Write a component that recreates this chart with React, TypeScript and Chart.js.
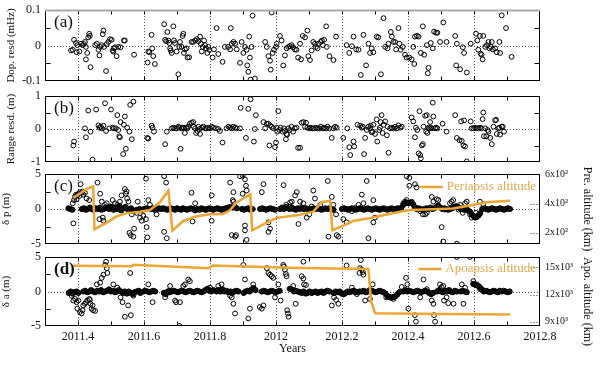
import React, { useEffect, useRef } from "react";
import { Chart, registerables } from "chart.js";

Chart.register(...registerables);

type Pt = [number, number];

const FONT = "'Liberation Serif', 'DejaVu Serif', serif";
const ORANGE = "#EEA534";
const ORANGE_TEXT = "#E4A64C";

// ---------- axes / ticks ----------
const X_MIN = 2011.3;
const X_MAX = 2012.8;
const xLabelValues = [2011.4, 2011.6, 2011.8, 2012, 2012.2, 2012.4, 2012.6, 2012.8];
const xTickLabels = ["2011.4", "2011.6", "2011.8", "2012", "2012.2", "2012.4", "2012.6", "2012.8"];
const xGridValues = [2011.4, 2011.6, 2011.8, 2012, 2012.2, 2012.4, 2012.6];
const xMinorTicks = [2011.4, 2011.5, 2011.6, 2011.7, 2011.8, 2011.9, 2012.0, 2012.1, 2012.2, 2012.3, 2012.4, 2012.5, 2012.6, 2012.7];

const dopTicks = [-0.1, 0, 0.1];
const dopTickLabels = ["-0.1", "0", "0.1"];
const dopMinor = [-0.05, 0.05];
const rangeTicks = [-1, 0, 1];
const rangeTickLabels = ["-1", "0", "1"];
const rangeMinor = [-0.5, 0.5];
const deltaTicks = [-5, 0, 5];
const deltaTickLabels = ["-5", "0", "5"];
const deltaMinor = [-2.5, 2.5];
const periTicks = [2, 4, 6];
const periTickLabels = ["2x10²", "4x10²", "6x10²"];
const apoTicks = [9, 12, 15];
const apoTickLabels = ["9x10³", "12x10³", "15x10³"];

// ---------- (a) Doppler residuals (mHz) ----------
const dopplerResid: Pt[] = [
  [2011.379,-0.014],[2011.384,-0.012],[2011.388,0.016],[2011.394,0.007],[2011.398,0.001],[2011.396,-0.019],[2011.404,-0.017],[2011.409,0.005],[2011.414,0.001],[2011.418,0.004],[2011.421,0.010],[2011.424,-0.004],[2011.424,-0.039],[2011.428,-0.021],[2011.431,0.023],[2011.434,0.033],[2011.436,0.027],[2011.438,-0.061],[2011.452,0.001],[2011.457,0.005],[2011.462,-0.012],[2011.465,-0.028],[2011.467,-0.004],[2011.472,0.001],[2011.475,0.032],[2011.477,0.042],[2011.479,-0.004],[2011.485,-0.072],[2011.487,0.004],[2011.492,0.010],[2011.497,0.018],[2011.502,0.016],[2011.505,-0.014],[2011.507,-0.017],[2011.509,-0.008],[2011.512,-0.005],[2011.517,-0.030],[2011.522,-0.004],[2011.529,-0.005],[2011.539,0.014],[2011.542,0.014],[2011.570,-0.026],
  [2011.611,-0.048],[2011.613,-0.017],[2011.616,-0.019],[2011.623,0.030],[2011.625,-0.008],[2011.628,-0.030],[2011.633,-0.052],[2011.661,0.060],[2011.664,0.016],[2011.667,0.012],[2011.671,0.038],[2011.674,0.014],[2011.677,0.007],[2011.679,-0.008],[2011.681,-0.014],[2011.684,-0.021],[2011.689,0.054],[2011.691,0.014],[2011.694,0.007],[2011.699,-0.017],[2011.704,-0.081],[2011.707,-0.004],[2011.709,0.010],[2011.714,-0.004],[2011.717,0.027],[2011.719,0.033],[2011.721,-0.021],[2011.724,-0.011],[2011.729,-0.008],[2011.732,-0.034],[2011.737,-0.033],[2011.744,0.010],[2011.749,0.010],[2011.755,0.014],[2011.760,0.018],[2011.765,0.012],[2011.770,0.025],[2011.772,0.005],[2011.775,-0.017],[2011.778,-0.004],[2011.782,0.014],[2011.785,0.001],[2011.788,-0.008],[2011.792,-0.021],[2011.795,-0.004],[2011.798,-0.012],
  [2011.808,-0.034],[2011.812,-0.011],[2011.820,0.049],[2011.825,-0.024],[2011.838,-0.046],[2011.845,-0.004],[2011.855,-0.004],[2011.861,-0.011],[2011.863,0.049],[2011.866,0.005],[2011.871,0.010],[2011.876,0.005],[2011.881,-0.011],[2011.891,-0.049],[2011.896,0.010],[2011.901,-0.021],[2011.906,-0.004],[2011.911,-0.012],[2011.913,-0.056],[2011.916,-0.074],[2011.919,0.025],[2011.921,-0.034],[2011.923,-0.096],[2011.926,-0.004],[2011.929,0.084],[2011.936,-0.093],[2011.967,0.010],[2011.972,-0.004],[2011.977,-0.030],[2011.982,-0.043],[2011.984,-0.068],[2011.987,0.093],[2011.990,-0.021],[2011.994,-0.012],[2012.000,-0.004],[2012.002,0.005],[2012.012,0.027],[2012.017,0.014],[2012.022,-0.056],[2012.027,-0.028],[2012.032,-0.008],[2012.037,-0.004],[2012.042,-0.002],[2012.047,0.001],[2012.052,-0.005],[2012.057,-0.011],[2012.062,-0.012],[2012.067,-0.034],
  [2012.073,0.005],[2012.076,-0.039],[2012.081,0.027],[2012.088,0.023],[2012.095,0.042],[2012.098,-0.030],[2012.103,-0.041],[2012.108,-0.014],[2012.113,0.010],[2012.118,0.005],[2012.121,-0.004],[2012.126,-0.008],[2012.129,0.005],[2012.136,0.010],[2012.139,0.014],[2012.142,0.001],[2012.146,0.016],[2012.152,0.054],[2012.154,-0.004],[2012.162,-0.030],[2012.174,-0.041],[2012.182,0.025],[2012.214,0.001],[2012.222,-0.021],[2012.230,-0.002],[2012.235,0.025],[2012.243,-0.011],[2012.250,-0.012],[2012.257,-0.083],[2012.265,0.030],[2012.273,-0.056],[2012.280,0.005],[2012.285,-0.021],[2012.290,-0.008],[2012.295,-0.019],[2012.305,0.025],[2012.310,0.023],[2012.318,-0.081],[2012.326,0.077],[2012.331,-0.004],[2012.338,-0.008],[2012.341,0.005],[2012.348,0.038],[2012.351,0.025],[2012.356,0.010],[2012.361,0.010],[2012.364,-0.011],[2012.371,0.049],[2012.374,0.005],[2012.378,-0.012],[2012.384,-0.004],[2012.391,-0.026],[2012.396,-0.034],[2012.404,-0.034],[2012.411,-0.039],[2012.416,-0.004],[2012.419,-0.052],[2012.421,0.025],[2012.427,0.027],[2012.432,0.025],[2012.439,-0.021],[2012.445,0.054],[2012.449,-0.026],[2012.457,0.001],[2012.460,-0.078],[2012.462,-0.063],[2012.469,0.007],[2012.475,-0.008],[2012.479,0.039],[2012.485,0.036],[2012.489,0.036],[2012.497,0.010],[2012.507,0.065],[2012.517,0.010],[2012.543,0.027],[2012.548,0.005],[2012.546,-0.056],[2012.558,-0.067],[2012.566,-0.005],[2012.570,-0.021],[2012.578,-0.076],[2012.590,0.005],[2012.606,0.033],[2012.610,0.014],[2012.613,-0.012],[2012.618,0.027],[2012.620,-0.023],[2012.623,-0.026],[2012.626,-0.039],[2012.628,0.027],[2012.634,-0.004],[2012.639,0.001],[2012.644,0.010],[2012.647,-0.008],[2012.651,-0.004],[2012.654,0.010],[2012.657,-0.011],[2012.664,-0.008],[2012.669,-0.019],[2012.677,0.010],[2012.679,-0.021],[2012.684,0.085],[2012.697,0.049],[2012.714,-0.032],
];

// ---------- (b) Range residuals (m) ----------
const rangeResid: Pt[] = [
  [2011.386,-0.50],[2011.388,-0.38],[2011.421,0.02],[2011.424,-0.25],[2011.431,0.56],[2011.438,-0.08],[2011.444,-0.93],[2011.455,0.59],[2011.462,0.11],[2011.465,0.04],[2011.469,0.07],[2011.472,0.02],[2011.477,0.10],[2011.482,0.78],[2011.485,-0.06],[2011.495,0.02],[2011.500,0.59],[2011.505,0.04],[2011.509,0.02],[2011.515,0.02],[2011.519,0.42],[2011.522,-0.03],[2011.525,-0.22],[2011.527,-0.25],[2011.529,0.21],[2011.537,-0.76],[2011.539,0.13],[2011.542,0.38],[2011.545,-0.60],[2011.549,0.04],[2011.556,-0.08],[2011.558,0.73],[2011.563,-0.31],[2011.568,0.83],
  [2011.610,-0.27],[2011.613,-0.29],[2011.623,0.10],[2011.626,0.04],[2011.630,-0.08],[2011.664,-0.46],[2011.669,-0.08],[2011.684,0.02],[2011.689,0.04],[2011.694,0.02],[2011.699,0.02],[2011.704,0.07],[2011.707,0.04],[2011.711,-0.60],[2011.714,0.02],[2011.717,0.04],[2011.721,0.04],[2011.724,-0.12],[2011.727,0.04],[2011.731,0.02],[2011.734,0.07],[2011.739,0.16],[2011.744,0.19],[2011.749,0.21],[2011.751,0.07],[2011.755,0.02],[2011.758,-0.12],[2011.762,-0.06],[2011.765,0.07],[2011.768,0.00],[2011.770,-0.15],[2011.775,0.04],[2011.780,0.07],[2011.785,0.02],[2011.790,0.02],[2011.795,0.04],[2011.800,0.02],[2011.805,0.07],[2011.810,0.04],[2011.818,0.02],[2011.825,0.00],[2011.830,-0.06],[2011.838,-0.41],[2011.850,0.02],[2011.856,0.07],[2011.861,0.04],[2011.866,0.02],[2011.871,0.07],[2011.876,0.04],[2011.881,0.02],[2011.891,0.02],[2011.893,0.64],[2011.909,-0.27],[2011.916,0.61],[2011.923,0.90],[2011.933,-0.38],[2011.936,0.00],[2011.939,0.42],[2011.962,0.21],[2011.967,0.02],[2011.972,0.16],[2011.977,0.16],[2011.980,-0.50],[2011.982,0.11],[2011.987,0.07],[2011.992,0.02],[2011.997,-0.55],[2012.000,-0.41],[2012.002,0.04],[2012.004,-0.08],[2012.007,0.54],[2012.010,-0.03],[2012.014,0.04],[2012.020,-0.08],[2012.024,0.02],[2012.027,-0.06],[2012.030,-0.31],[2012.032,-0.15],[2012.034,-0.17],[2012.037,0.02],[2012.042,-0.03],[2012.047,0.07],[2012.052,-0.08],[2012.057,0.02],[2012.062,0.04],[2012.067,-0.57],
  [2012.073,-0.57],[2012.078,0.19],[2012.083,0.21],[2012.088,0.07],[2012.091,0.19],[2012.095,0.04],[2012.101,0.02],[2012.105,0.04],[2012.111,0.02],[2012.115,0.02],[2012.121,0.04],[2012.126,0.02],[2012.132,0.02],[2012.136,0.07],[2012.142,0.02],[2012.146,0.04],[2012.152,0.02],[2012.156,0.07],[2012.162,0.02],[2012.169,-0.27],[2012.174,0.02],[2012.179,0.07],[2012.184,0.04],[2012.204,-0.27],[2012.216,0.02],[2012.222,-0.55],[2012.225,-0.79],[2012.235,-0.38],[2012.237,-0.53],[2012.247,0.13],[2012.255,0.10],[2012.260,0.04],[2012.263,0.07],[2012.267,-0.76],[2012.270,-0.27],[2012.275,-0.03],[2012.280,0.07],[2012.285,0.02],[2012.287,0.10],[2012.290,-0.10],[2012.293,-0.08],[2012.295,0.13],[2012.300,-0.15],[2012.305,0.29],[2012.307,-0.38],[2012.313,-0.03],[2012.315,0.04],[2012.317,0.21],[2012.320,0.42],[2012.323,-0.12],[2012.326,0.13],[2012.331,0.23],[2012.336,-0.19],[2012.338,0.07],[2012.341,-0.72],[2012.346,0.02],[2012.351,0.04],[2012.356,0.02],[2012.361,0.07],[2012.366,0.02],[2012.371,0.11],[2012.376,0.04],[2012.381,0.07],
  [2012.411,0.35],[2012.416,0.23],[2012.421,-0.25],[2012.424,0.04],[2012.428,-0.03],[2012.432,-0.74],[2012.435,0.54],[2012.437,-0.79],[2012.439,-0.89],[2012.442,-0.50],[2012.445,-0.46],[2012.447,0.07],[2012.452,0.40],[2012.455,-0.08],[2012.457,0.42],[2012.459,-0.12],[2012.462,0.04],[2012.465,0.02],[2012.467,0.21],[2012.469,0.04],[2012.472,0.02],[2012.475,0.80],[2012.477,0.38],[2012.482,0.02],[2012.485,0.04],[2012.489,0.02],[2012.505,0.16],[2012.517,-0.08],[2012.543,0.42],[2012.548,-0.27],[2012.556,-0.34],[2012.561,0.23],[2012.563,-0.36],[2012.568,-0.50],[2012.570,0.26],[2012.573,-0.53],[2012.578,-0.98],[2012.590,0.23],[2012.593,0.02],[2012.598,0.02],[2012.603,0.04],[2012.608,0.02],[2012.613,0.02],[2012.618,0.04],[2012.623,0.02],[2012.626,0.30],[2012.628,0.50],[2012.630,-0.22],[2012.634,0.02],[2012.637,-0.22],[2012.641,-0.03],[2012.644,-0.08],[2012.649,-0.27],[2012.654,-0.46],[2012.659,0.07],[2012.664,0.26],[2012.667,0.28],[2012.669,-0.15],[2012.674,0.02],[2012.677,0.04],[2012.679,-0.17],[2012.684,0.07],[2012.687,0.07],[2012.691,-0.08],
];

// ---------- (c) delta p (m), dense near-zero band + scattered ----------
const deltaPBand: Pt[] = [
  [2011.371,0.1],[2011.377,0],[2011.383,-0.1],
  [2011.412,0],[2011.418,0.1],[2011.424,-0.1],[2011.429,0],[2011.436,0.2],[2011.442,0],[2011.447,-0.1],[2011.453,0.1],[2011.46,0],[2011.466,0.2],[2011.471,-0.1],[2011.478,0],[2011.484,0.2],[2011.49,0.1],[2011.495,0],[2011.502,0.3],[2011.508,-0.1],[2011.513,0.2],[2011.52,0],[2011.526,0.4],[2011.531,-0.2],[2011.538,0.1],[2011.544,0.3],[2011.55,0],[2011.556,-0.2],[2011.561,0.1],[2011.567,-0.3],[2011.574,-0.2],[2011.58,-0.1],[2011.587,0],[2011.593,-0.2],[2011.6,0],[2011.607,0.1],[2011.62,0],[2011.626,0.1],[2011.632,-0.1],[2011.64,0],[2011.646,0.1],[2011.652,0],[2011.658,0.1],[2011.664,0],[2011.67,-0.1],
  [2011.676,0],[2011.682,0.1],[2011.688,0],[2011.694,-0.1],[2011.7,0.1],[2011.706,0],[2011.712,-0.1],[2011.718,0.1],[2011.724,0],[2011.73,-0.1],[2011.736,0],[2011.742,0.1],[2011.749,0],[2011.755,-0.2],[2011.761,0],[2011.768,-0.1],[2011.774,0.1],[2011.78,0],[2011.786,-0.1],[2011.792,0],[2011.798,0.1],[2011.804,0],[2011.81,-0.1],[2011.816,0],[2011.822,0.1],[2011.829,0],[2011.835,-0.1],[2011.841,0],[2011.848,0.1],[2011.855,0.2],[2011.862,0.3],[2011.868,0.2],[2011.875,0.3],[2011.881,0.1],
  [2011.897,0],[2011.903,-0.1],[2011.909,0],[2011.916,0.1],[2011.922,-0.1],[2011.929,0],
  [2011.952,0],[2011.958,0.1],[2011.964,0],[2011.97,-0.1],[2011.976,0],[2011.983,0.1],[2011.99,0],[2011.997,-0.1],
  [2012.012,0],[2012.018,0.2],[2012.024,0],[2012.03,0.3],[2012.036,0.1],[2012.042,0],[2012.048,0.2],[2012.054,0],[2012.06,-0.1],[2012.066,0.1],[2012.072,0],[2012.078,0.2],[2012.084,0],[2012.09,0.1],[2012.096,0],[2012.102,-0.1],[2012.108,0],[2012.114,0.1],[2012.12,0],[2012.126,0.1],[2012.132,0],[2012.138,-0.1],[2012.144,0],[2012.15,0.1],[2012.156,0],[2012.162,0.1],[2012.168,0],[2012.174,-0.1],
  [2012.2,0],[2012.206,0.1],[2012.212,0],[2012.218,-0.1],[2012.224,0],[2012.23,0.1],[2012.236,0],[2012.242,-0.1],[2012.248,0],[2012.254,0.1],[2012.26,0],[2012.266,-0.1],[2012.272,0],[2012.278,0.1],[2012.284,0],[2012.29,-0.1],[2012.296,0],[2012.302,0.1],[2012.308,0],[2012.314,-0.1],[2012.32,0],[2012.326,0.1],[2012.332,0],[2012.338,-0.1],[2012.344,0],[2012.35,0.1],[2012.356,0],[2012.362,0],[2012.368,0.1],[2012.374,0],[2012.38,0.2],
  [2012.386,0.6],[2012.391,0.8],[2012.397,0.9],[2012.403,0.8],[2012.409,0.9],[2012.415,0.7],[2012.42,0.3],
  [2012.426,0],[2012.432,0.1],[2012.438,0],[2012.444,-0.1],[2012.45,0],[2012.456,0.1],[2012.462,0],[2012.468,0.2],[2012.474,0],[2012.48,0.1],[2012.486,0.3],[2012.492,0.5],[2012.498,0.2],[2012.504,0],[2012.51,0.1],[2012.516,0],[2012.522,-0.1],[2012.528,0],[2012.534,0.1],[2012.54,0.3],[2012.546,0.4],[2012.552,0.3],[2012.558,0.1],[2012.564,0],[2012.57,-0.1],[2012.576,0],[2012.582,-0.2],[2012.588,-0.4],
  [2012.594,-0.8],[2012.599,-1],[2012.604,-1.2],[2012.609,-1.1],[2012.614,-0.9],[2012.619,-0.6],
  [2012.625,0],[2012.631,0.1],[2012.637,0],[2012.643,-0.1],[2012.649,0],[2012.655,0.1],[2012.661,0],[2012.667,-0.1],[2012.673,0],[2012.679,0.1],[2012.685,0],[2012.691,-0.1],[2012.697,0],[2012.703,0.1],[2012.709,0],
];

const deltaPScatter: Pt[] = [
  [2011.386,-2.05],[2011.384,0.82],[2011.388,1.27],[2011.391,1.73],[2011.394,2.05],[2011.396,1.41],[2011.398,1.95],[2011.401,2.18],[2011.404,1.86],[2011.406,2.41],[2011.408,3.55],[2011.411,2.32],[2011.414,2.5],[2011.416,2.05],[2011.421,2.32],[2011.426,1.5],[2011.434,1.27],[2011.459,3.77],[2011.465,-1.45],[2011.467,2.18],[2011.472,1.05],[2011.475,-1.23],[2011.477,-1.68],[2011.482,0.59],[2011.487,0.82],[2011.497,0.36],[2011.505,1.27],[2011.512,0.82],[2011.519,0.59],[2011.527,1.05],[2011.532,1.95],[2011.542,2.86],[2011.545,2.18],[2011.547,2.5],[2011.549,1.5],[2011.553,1.05],[2011.556,-3.41],[2011.563,-0.77],[2011.560,-3.73],[2011.568,-3.95],[2011.570,-2.82],[2011.578,-0.55],[2011.581,1.05],[2011.588,-1.23],[2011.593,-1.68],[2011.598,-1.0],[2011.606,4.32],[2011.606,-1.45],[2011.608,-2.59],[2011.610,-4.05],[2011.613,1.27],[2011.618,0.59],[2011.638,-0.77],[2011.661,4.68],[2011.667,3.77],[2011.661,-3.27],[2011.669,-4.18],[2011.744,2.32],[2011.747,-1.77],[2011.755,0.82],[2011.790,-0.09],
  [2011.805,1.95],[2011.805,-1.68],[2011.861,3.77],[2011.871,2.41],[2011.869,1.27],[2011.871,1.05],[2011.866,-3.73],[2011.876,-3.95],[2011.879,-3.73],[2011.891,4.68],[2011.899,4.77],[2011.906,4.23],[2011.909,3.32],[2011.899,2.18],[2011.911,2.64],[2011.906,-2.36],[2011.906,-3.05],[2011.911,-4.41],[2011.957,2.41],[2011.962,3.55],[2011.977,-1.91],[2011.977,-3.27],[2011.982,-2.82],[2012.023,3.41],[2012.031,0.59],[2012.043,0.95],[2012.048,1.05],[2012.058,1.95],[2012.063,2.41],[2012.068,-2.14],[2012.073,1.05],[2012.083,0.82],[2012.093,-1.23],[2012.101,-0.77],[2012.108,0.36],[2012.113,2.64],[2012.118,1.5],[2012.134,0.59],[2012.157,4.0],[2012.159,-3.95],[2012.169,1.73],[2012.174,0.59],[2012.182,-0.77],[2012.184,-3.73],[2012.189,-3.95],[2012.204,-1.45],[2012.214,-1.91],[2012.230,-0.32],[2012.240,0.14],[2012.250,0.59],[2012.260,2.05],[2012.265,0.82],[2012.275,4.0],[2012.280,-4.18],
  [2012.295,1.27],[2012.295,-1.91],[2012.30,-1.23],[2012.386,0.82],[2012.391,1.05],[2012.396,4.68],[2012.404,4.45],[2012.404,3.32],[2012.396,1.27],[2012.411,1.05],[2012.421,3.55],[2012.426,3.09],[2012.437,-0.32],[2012.445,-0.77],[2012.452,-0.77],[2012.457,-0.55],[2012.472,1.73],[2012.477,1.05],[2012.487,1.41],[2012.492,1.27],[2012.502,-2.59],[2012.507,-4.64],[2012.512,-0.09],[2012.527,0.82],[2012.532,1.05],[2012.537,1.27],[2012.548,-4.95],[2012.553,-0.09],[2012.558,0.59],[2012.566,-0.55],[2012.573,0.82],[2012.578,1.05],[2012.588,-0.77],[2012.593,-1.23],[2012.598,-1.0],[2012.603,-1.23],[2012.606,-0.55],[2012.610,-1.0],[2012.618,1.05],[2012.628,0.68],
];

// periapsis altitude (x100 km)
const periapsisAlt: Pt[] = [
  [2011.386,4.4],[2011.428,5.05],[2011.446,5.2],[2011.45,2.25],[2011.487,2.71],[2011.517,3.14],[2011.548,3.36],[2011.588,3.46],[2011.618,3.57],[2011.648,4.11],[2011.674,4.9],[2011.686,2.15],[2011.719,2.82],[2011.76,3.14],[2011.8,3.29],[2011.84,3.3],[2011.861,3.57],[2011.881,4.11],[2011.922,4.65],[2011.928,2.18],[2011.972,2.71],[2012.002,3.03],[2012.073,3.25],[2012.113,3.46],[2012.138,4.11],[2012.164,4.22],[2012.171,2.18],[2012.204,2.5],[2012.234,2.82],[2012.285,3.03],[2012.376,3.46],[2012.406,3.57],[2012.537,3.68],[2012.588,3.89],[2012.638,4.11],[2012.709,4.21],
];

// ---------- (d) delta a (m) ----------
const deltaABand: Pt[] = [
  [2011.372,-0.2],[2011.378,0],[2011.384,-0.3],[2011.39,-0.1],[2011.396,0],[2011.401,-0.2],
  [2011.416,0],[2011.422,0.1],[2011.428,-0.1],[2011.434,0],[2011.44,0.2],[2011.446,0],[2011.452,-0.1],[2011.458,0.1],[2011.464,0],[2011.47,0.2],[2011.476,-0.1],[2011.482,0],[2011.488,0.1],[2011.494,0.3],[2011.5,0],[2011.506,0.1],[2011.512,-0.1],[2011.518,0],[2011.524,0.2],[2011.53,0],[2011.536,-0.2],[2011.542,0],[2011.548,-0.3],[2011.554,0],[2011.56,-0.2],[2011.566,-0.4],[2011.572,-0.1],[2011.578,0],[2011.584,0.1],[2011.589,-0.2],
  [2011.598,0],[2011.604,0.1],[2011.61,0],[2011.616,-0.1],[2011.622,0],[2011.628,0.1],[2011.634,0],
  [2011.66,-0.2],[2011.666,-0.4],[2011.672,0],[2011.678,-0.1],[2011.684,0],[2011.69,0.1],[2011.696,0],[2011.702,-0.1],[2011.708,0],[2011.714,0.1],[2011.72,0],[2011.726,-0.1],[2011.732,0],[2011.738,0.1],[2011.744,0],[2011.75,-0.1],[2011.756,0],[2011.762,0.1],[2011.768,0],[2011.774,-0.1],[2011.78,0],[2011.786,0.2],[2011.792,0.4],[2011.798,0.1],[2011.804,0],[2011.81,0.2],
  [2011.82,0],[2011.826,0.2],[2011.832,0],[2011.838,0.3],[2011.844,0],[2011.85,0.1],[2011.856,-0.1],[2011.862,0],[2011.868,-0.2],[2011.874,0],[2011.88,0.1],[2011.886,0],
  [2011.902,-0.2],[2011.908,0],[2011.914,0.1],[2011.92,0],[2011.926,0.3],[2011.932,0.5],[2011.938,0.2],
  [2011.957,0],[2011.963,0.1],[2011.969,0],[2011.975,-0.1],[2011.981,0],[2011.987,0.1],[2011.993,0],[2011.999,-0.1],[2012.005,0],[2012.011,0.1],
  [2012.042,0.4],[2012.048,0.3],[2012.054,0],[2012.06,0.1],[2012.066,0],[2012.072,-0.1],[2012.078,-0.2],[2012.084,0],[2012.09,-0.3],[2012.096,-0.2],[2012.102,0],[2012.108,-0.2],[2012.114,-0.1],[2012.12,0],[2012.126,-0.2],[2012.132,-0.1],[2012.138,0],[2012.144,-0.2],[2012.15,0],[2012.156,0.1],[2012.162,0],
  [2012.175,-0.2],[2012.181,0],[2012.187,-0.1],[2012.193,0],[2012.199,-0.3],[2012.205,-0.4],[2012.211,-0.2],[2012.217,0],[2012.223,-0.1],[2012.229,0],[2012.235,0.1],[2012.241,0],[2012.247,-0.1],[2012.253,0],
  [2012.26,0],[2012.266,0.1],[2012.272,-0.1],[2012.278,0],[2012.284,0.2],[2012.29,0.1],[2012.296,0],[2012.302,-0.1],[2012.308,0],[2012.314,0.1],[2012.32,0],[2012.326,-0.1],[2012.332,-0.3],[2012.338,-0.7],[2012.344,-0.8],[2012.35,-0.9],[2012.356,-0.8],[2012.362,-0.7],[2012.368,-0.4],[2012.374,-0.1],
  [2012.386,0],[2012.392,0.2],[2012.398,0],[2012.404,0.1],[2012.41,0],[2012.416,-0.1],[2012.422,0],[2012.428,0.1],[2012.434,0],[2012.44,-0.1],[2012.446,0],[2012.452,0.1],[2012.458,0],[2012.464,-0.2],[2012.47,-0.4],[2012.476,-0.2],
  [2012.488,0],[2012.494,0.2],[2012.5,0],[2012.506,-0.1],[2012.512,0.1],[2012.518,0],[2012.524,0.2],[2012.53,0],[2012.536,-0.1],[2012.542,0.1],[2012.548,0],[2012.56,0],[2012.566,0.1],[2012.572,0],[2012.578,-0.1],
  [2012.598,1.1],[2012.603,1.0],[2012.608,0.9],[2012.613,0.8],[2012.618,0.6],[2012.624,0.3],[2012.63,0],[2012.636,0.1],[2012.642,0],[2012.648,-0.1],[2012.654,0],[2012.66,0.1],[2012.666,0],[2012.672,-0.1],[2012.678,0.1],[2012.684,0],[2012.69,0.1],[2012.696,0],[2012.702,-0.1],[2012.708,0],
];

const deltaAScatter: Pt[] = [
  [2011.381,-0.61],[2011.386,-1.31],[2011.391,-1.08],[2011.396,-1.55],[2011.401,-1.31],[2011.398,-2.49],[2011.406,-2.96],[2011.411,-3.19],[2011.414,-2.72],[2011.416,-2.02],[2011.421,-1.78],[2011.424,-1.55],[2011.428,-1.31],[2011.434,-1.08],[2011.436,-1.22],[2011.438,-1.78],[2011.441,-2.49],[2011.444,-2.02],[2011.446,-2.72],[2011.452,-2.82],[2011.457,1.03],[2011.467,1.27],[2011.472,1.97],[2011.477,2.44],[2011.482,3.85],[2011.485,4.32],[2011.487,3.38],[2011.489,2.68],[2011.507,1.03],[2011.519,0.56],[2011.529,-0.85],[2011.535,-1.55],[2011.542,-3.66],[2011.552,-2.02],[2011.558,2.68],[2011.560,-3.43],[2011.568,-0.61],[2011.613,1.03],[2011.626,-1.55],[2011.664,-0.85],[2011.677,0.09],[2011.679,0.8],[2011.694,-1.31],[2011.697,-1.55],[2011.707,-4.98],[2011.709,-1.55],[2011.719,0.8],[2011.724,1.03],[2011.734,1.74],[2011.739,1.5],[2011.8,0.56],[2011.825,0.8],[2011.835,1.03],[2011.861,-0.61],[2011.866,-0.85],[2011.871,-1.78],[2011.876,-3.19],[2011.901,3.85],[2011.906,1.74],[2011.916,-3.9],[2011.921,-2.49],[2011.931,1.03],[2011.951,-2.25],[2011.957,-2.49],[2011.962,-2.02],[2011.972,3.38],[2011.977,2.68],[2011.982,2.44],[2011.987,2.21],[2011.992,1.97],[2011.997,-0.85],[2012.007,1.03],[2012.014,-1.31],[2012.022,3.85],[2012.024,3.62],[2012.027,3.15],[2012.030,2.54],[2012.032,2.21],[2012.034,-2.72],[2012.036,-3.19],[2012.038,-3.66],[2012.052,0.8],[2012.060,-1.78],
  [2012.083,4.32],[2012.078,2.21],[2012.083,1.88],[2012.085,1.03],[2012.091,0.94],[2012.169,-2.02],[2012.176,-0.85],[2012.182,-1.22],[2012.189,-1.78],[2012.214,3.76],[2012.230,0.56],[2012.240,-0.14],[2012.245,-0.38],[2012.253,2.68],[2012.255,3.38],[2012.257,4.55],[2012.260,3.15],[2012.263,2.82],[2012.265,2.44],[2012.270,-1.31],[2012.285,-1.08],[2012.293,1.03],[2012.334,-0.85],[2012.346,-0.85],[2012.356,-1.08],[2012.381,0.66],[2012.394,1.97],[2012.398,1.03],[2012.401,-2.49],[2012.421,-3.43],[2012.424,-4.37],[2012.437,-0.85],[2012.447,1.74],[2012.457,0.33],[2012.472,-1.31],[2012.477,-1.78],[2012.479,-3.43],[2012.482,-4.37],[2012.497,1.03],[2012.502,0.66],[2012.507,0.8],[2012.509,-1.31],[2012.517,-0.85],[2012.522,-1.69],[2012.538,-1.78],[2012.548,5.0],[2012.563,1.03],[2012.568,-1.78],[2012.573,0.56],[2012.588,5.0],[2012.598,1.5],[2012.608,1.03],[2012.618,0.33],
];

// apoapsis altitude (x1000 km)
const apoapsisAlt: Pt[] = [
  [2011.385,15.18],[2011.564,15.12],[2011.567,15.3],[2011.795,14.9],[2011.808,15.22],[2012.073,14.95],[2012.28,14.82],[2012.288,11.3],[2012.3,9.95],[2012.5,9.86],[2012.709,9.8],
];

// ---------- panel specs ----------
interface RightAxis { min: number; max: number; ticks: number[]; labels: string[]; title: string; titleAlign: string; }
interface PanelSpec {
  key: string; top: number; height: number; padTop: number; padBottom: number;
  label: string; boldLabel?: boolean; yTitle: string; yTitlePad: number;
  yMin: number; yMax: number; yTicks: number[]; yTickLabels: string[]; yMinor: number[];
  points: Pt[]; band?: Pt[]; line?: Pt[]; y2?: RightAxis; legend?: string; legendDy?: number;
  showX: boolean; grayTop?: boolean;
}

const PANELS: PanelSpec[] = [
  { key: "a", top: 0, height: 91, padTop: 7.5, padBottom: 8, label: "(a)", yTitle: "Dop. resd (mHz)", yTitlePad: 5,
    yMin: -0.1, yMax: 0.1, yTicks: dopTicks, yTickLabels: dopTickLabels, yMinor: dopMinor, points: dopplerResid, showX: false, grayTop: true },
  { key: "b", top: 86, height: 86, padTop: 8, padBottom: 8, label: "(b)", yTitle: "Range resd. (m)", yTitlePad: 5,
    yMin: -1, yMax: 1, yTicks: rangeTicks, yTickLabels: rangeTickLabels, yMinor: rangeMinor, points: rangeResid, showX: false },
  { key: "c", top: 164, height: 90, padTop: 7.5, padBottom: 8.5, label: "(c)", yTitle: "δ p (m)", yTitlePad: 0,
    yMin: -5, yMax: 5, yTicks: deltaTicks, yTickLabels: deltaTickLabels, yMinor: deltaMinor,
    points: deltaPScatter, band: deltaPBand, line: periapsisAlt,
    y2: { min: 1.23, max: 6.06, ticks: periTicks, labels: periTickLabels, title: "Pre. altitude (km)", titleAlign: "center" },
    legend: "Periapsis altitude", legendDy: 13, showX: false },
  { key: "d", top: 247, height: 121, padTop: 8, padBottom: 12, label: "(d)", boldLabel: true, yTitle: "δ a (m)", yTitlePad: 0,
    yMin: -5, yMax: 5, yTicks: deltaTicks, yTickLabels: deltaTickLabels, yMinor: deltaMinor,
    points: deltaAScatter, band: deltaABand, line: apoapsisAlt,
    y2: { min: 8.54, max: 16.15, ticks: apoTicks, labels: apoTickLabels, title: "Apo. altitude (km)", titleAlign: "end" },
    legend: "Apoapsis altitude", legendDy: 12, showX: true },
];

function makeDecor(spec: PanelSpec) {
  return {
    id: "decor",
    beforeDatasetsDraw(chart: any) {
      const { ctx, chartArea: a, scales } = chart;
      ctx.save();
      ctx.lineWidth = 1;
      ctx.strokeStyle = "#555";
      ctx.setLineDash([1, 2]);
      for (const v of xGridValues) {
        const px = Math.round(scales.x.getPixelForValue(v)) + 0.5;
        ctx.beginPath();
        ctx.moveTo(px, a.top);
        ctx.lineTo(px, a.bottom);
        ctx.stroke();
      }
      const py = Math.round(scales.y.getPixelForValue(0)) + 0.5;
      ctx.beginPath();
      ctx.moveTo(a.left, py);
      ctx.lineTo(a.right, py);
      ctx.stroke();
      ctx.restore();
    },
    afterDatasetsDraw(chart: any) {
      const { ctx, chartArea: a, scales } = chart;
      const L = Math.round(a.left) + 0.5;
      const R = Math.round(a.right) - 0.5;
      const T = Math.round(a.top) + 0.5;
      const B = Math.round(a.bottom) - 0.5;
      ctx.save();
      ctx.setLineDash([]);
      ctx.strokeStyle = "#000";
      ctx.lineWidth = 1;
      ctx.strokeRect(L, T, R - L, B - T);
      ctx.beginPath();
      for (const v of xMinorTicks) {
        const px = Math.round(scales.x.getPixelForValue(v)) + 0.5;
        ctx.moveTo(px, T); ctx.lineTo(px, T + 4);
        ctx.moveTo(px, B); ctx.lineTo(px, B - 4);
      }
      for (const v of spec.yMinor) {
        const py = Math.round(scales.y.getPixelForValue(v)) + 0.5;
        ctx.moveTo(L, py); ctx.lineTo(L + 5, py);
        if (!spec.y2) { ctx.moveTo(R, py); ctx.lineTo(R - 5, py); }
      }
      ctx.stroke();
      if (spec.y2) {
        ctx.setLineDash([1, 2]);
        ctx.strokeStyle = "#333";
        ctx.beginPath();
        for (const v of spec.y2.ticks) {
          const py = Math.round(scales.y2.getPixelForValue(v)) + 0.5;
          if (py < T + 2 || py > B - 2) continue;
          ctx.moveTo(R - 9, py); ctx.lineTo(R, py);
        }
        ctx.stroke();
        ctx.setLineDash([]);
      }
      if (spec.grayTop) {
        ctx.strokeStyle = "#a9a9a9";
        ctx.lineWidth = 2;
        ctx.beginPath();
        ctx.moveTo(L - 0.5, T);
        ctx.lineTo(R + 0.5, T);
        ctx.stroke();
      }
      if (spec.legend) {
        const ly = a.top + (spec.legendDy || 13);
        ctx.font = `13px ${FONT}`;
        ctx.textAlign = "right";
        ctx.textBaseline = "middle";
        ctx.fillStyle = ORANGE_TEXT;
        const tx = a.right - 4;
        ctx.fillText(spec.legend, tx, ly);
        const w = ctx.measureText(spec.legend).width;
        ctx.strokeStyle = ORANGE;
        ctx.lineWidth = 2.5;
        ctx.beginPath();
        ctx.moveTo(tx - w - 27, ly);
        ctx.lineTo(tx - w - 4, ly);
        ctx.stroke();
      }
      ctx.font = `${spec.boldLabel ? "bold " : ""}17px ${FONT}`;
      ctx.fillStyle = "#111";
      ctx.textAlign = "left";
      ctx.textBaseline = "middle";
      ctx.fillText(spec.label, a.left + 9, a.top + 13);
      ctx.restore();
    },
  };
}

function Panel({ spec }: { spec: PanelSpec }) {
  const ref = useRef<HTMLCanvasElement | null>(null);
  useEffect(() => {
    const canvas = ref.current;
    if (!canvas) return;
    const toXY = (arr: Pt[]) => arr.map(([x, y]) => ({ x, y }));
    const datasets: any[] = [];
    if (spec.line) {
      datasets.push({
        data: toXY(spec.line), yAxisID: "y2", showLine: true, borderColor: ORANGE, borderWidth: 2.5,
        pointRadius: 0, tension: 0, order: 0, clip: 0,
      });
    }
    if (spec.band) {
      datasets.push({
        data: toXY(spec.band), yAxisID: "y", showLine: false, order: 2,
        pointRadius: 2.6, pointBorderWidth: 1, borderColor: "#000", pointBorderColor: "#000",
        backgroundColor: "#111", pointBackgroundColor: "#111",
      });
    }
    datasets.push({
      data: toXY(spec.points), yAxisID: "y", showLine: false, order: 1,
      pointRadius: 2.4, pointBorderWidth: 1, borderColor: "#000", pointBorderColor: "#000",
      backgroundColor: "rgba(0,0,0,0)", pointBackgroundColor: "rgba(0,0,0,0)",
    });
    const tickFont = { family: FONT, size: 12, lineHeight: 1 };
    const scales: any = {
      x: {
        type: "linear", min: X_MIN, max: X_MAX, display: spec.showX, position: "bottom",
        grid: { display: false, drawTicks: false }, border: { display: false },
        afterBuildTicks: (s: any) => { s.ticks = xLabelValues.map((v) => ({ value: v })); },
        ticks: { autoSkip: false, maxRotation: 0, minRotation: 0, padding: 5, color: "#111", font: tickFont,
          callback: (_v: any, i: number) => xTickLabels[i] },
        title: { display: spec.showX, text: "Years", color: "#111", font: { family: FONT, size: 12 }, padding: { top: 0, bottom: 0 } },
      },
      y: {
        type: "linear", min: spec.yMin, max: spec.yMax, position: "left",
        grid: { display: false, drawTicks: false }, border: { display: false },
        afterBuildTicks: (s: any) => { s.ticks = spec.yTicks.map((v) => ({ value: v })); },
        ticks: { padding: 4, color: "#111", font: tickFont, callback: (_v: any, i: number) => spec.yTickLabels[i] },
        title: { display: true, text: spec.yTitle, color: "#111", font: { family: FONT, size: 11 }, padding: { top: spec.yTitlePad, bottom: 0 } },
        afterFit: (s: any) => { s.width = 45; },
      },
    };
    if (spec.showX) scales.x.afterFit = (s: any) => { s.height = 30; };
    if (spec.y2) {
      const r = spec.y2;
      scales.y2 = {
        axis: "y", type: "linear", min: r.min, max: r.max, position: "right",
        grid: { display: false, drawTicks: false }, border: { display: false },
        afterBuildTicks: (s: any) => { s.ticks = r.ticks.map((v) => ({ value: v })); },
        ticks: { padding: 5, color: "#111", font: { family: FONT, size: 10, lineHeight: 1 }, callback: (_v: any, i: number) => r.labels[i] },
        title: { display: true, text: r.title, align: r.titleAlign, color: "#111", font: { family: FONT, size: 12 }, padding: { top: 6, bottom: 0 } },
        afterFit: (s: any) => { s.width = 60; },
      };
    }
    const chart = new Chart(canvas, {
      type: "scatter",
      data: { datasets },
      options: {
        responsive: false,
        animation: false,
        events: [],
        layout: { padding: { top: spec.padTop, bottom: spec.padBottom, left: 0, right: spec.y2 ? 0 : 60 } },
        plugins: { legend: { display: false }, tooltip: { enabled: false } },
        scales,
      } as any,
      plugins: [makeDecor(spec) as any],
    });
    return () => chart.destroy();
  }, [spec]);
  return (
    <canvas
      ref={ref}
      width={600}
      height={spec.height}
      style={{ position: "absolute", left: 0, top: spec.top, width: 600, height: spec.height, display: "block" }}
    />
  );
}

export default function App() {
  return (
    <div style={{ position: "absolute", left: 0, top: 0, width: 600, height: 368, background: "#fff", overflow: "hidden" }}>
      {PANELS.map((p) => (
        <Panel key={p.key} spec={p} />
      ))}
    </div>
  );
}
